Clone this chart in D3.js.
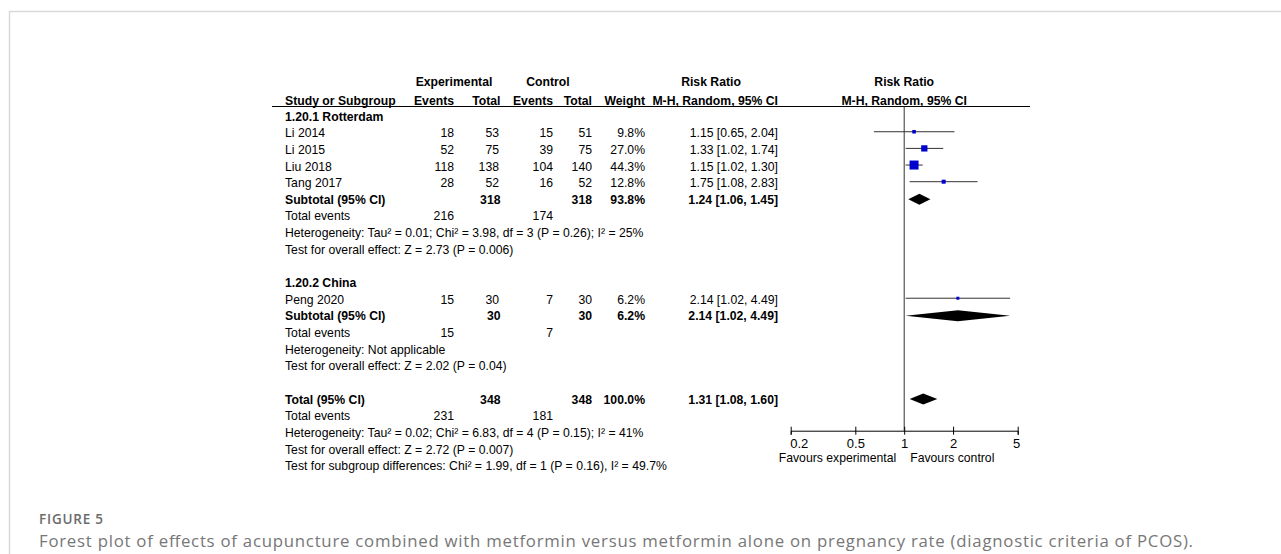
<!DOCTYPE html>
<html>
<head>
<meta charset="utf-8">
<script src="https://cdn.jsdelivr.net/npm/d3@7"></script>
<style>
  body { margin: 0; background: #fff; }
  svg text { font-family: "Liberation Sans", Arial, sans-serif; fill: #000; }
  .b { font-weight: bold; }
  .cap { font-family: "Open Sans", sans-serif; fill: #777; }
</style>
</head>
<body>
<div id="chart"></div>
<script>
// study level data
const studies = ["Li 2014", "Li 2015", "Liu 2018", "Tang 2017", "Peng 2020"];
const studyGroup = [0, 0, 0, 0, 1];
const expEvents = [18, 52, 118, 28, 15];
const expTotal = [53, 75, 138, 52, 30];
const ctlEvents = [15, 39, 104, 16, 7];
const ctlTotal = [51, 75, 140, 52, 30];
const weights = [9.8, 27.0, 44.3, 12.8, 6.2];
const rr = [1.15, 1.33, 1.15, 1.75, 2.14];
const ciLow = [0.65, 1.02, 1.02, 1.08, 1.02];
const ciHigh = [2.04, 1.74, 1.30, 2.83, 4.49];

// subgroups
const groups = ["1.20.1 Rotterdam", "1.20.2 China"];
const groupExpTotal = [318, 30];
const groupCtlTotal = [318, 30];
const groupExpEvents = [216, 15];
const groupCtlEvents = [174, 7];
const groupWeight = [93.8, 6.2];
const groupRR = [1.24, 2.14];
const groupLow = [1.06, 1.02];
const groupHigh = [1.45, 4.49];
const groupHet = ["Heterogeneity: Tau\u00b2 = 0.01; Chi\u00b2 = 3.98, df = 3 (P = 0.26); I\u00b2 = 25%",
                  "Heterogeneity: Not applicable"];
const groupTest = ["Test for overall effect: Z = 2.73 (P = 0.006)",
                   "Test for overall effect: Z = 2.02 (P = 0.04)"];

// overall
const totalExp = 348, totalCtl = 348, totalExpEvents = 231, totalCtlEvents = 181;
const totalWeight = 100.0, totalRR = 1.31, totalLow = 1.08, totalHigh = 1.60;
const totalNotes = ["Heterogeneity: Tau\u00b2 = 0.02; Chi\u00b2 = 6.83, df = 4 (P = 0.15); I\u00b2 = 41%",
                    "Test for overall effect: Z = 2.72 (P = 0.007)",
                    "Test for subgroup differences: Chi\u00b2 = 1.99, df = 1 (P = 0.16), I\u00b2 = 49.7%"];

const ticks = [0.2, 0.5, 1, 2, 5];
const favours = ["Favours experimental", "Favours control"];

let width = 1281, height = 554;

const svg = d3.select("#chart").append("svg")
    .attr("width", width).attr("height", height);

// light frame round the figure
svg.append("path")
    .attr("d", `M9.5,${height} V11.5 H${width}`)
    .attr("fill", "none").attr("stroke", "#d9d9d9").attr("stroke-width", 1.5);

// RevMan text is a bit taller and narrower than plain Arial
let fs = 13, sx = 0.94;
let col = { study: 285, expE: 454, expT: 499, ctlE: 553, ctlT: 592, w: 645, rr: 778 };

// row baselines
let y = d3.scaleLinear().domain([0, 21]).range([120.6, 470.2]);

let x = d3.scaleLog().domain([0.2, 5]).range([790.7, 1017.7]);
let size = d3.scaleLinear().domain([0, d3.max(weights)]).range([2, 9]);

let f2 = d3.format(".2f"), f1 = d3.format(".1f");
let ciText = (m, l, h) => `${f2(m)} [${f2(l)}, ${f2(h)}]`;

function txt(str, xx, yy, anchor, bold) {
    svg.append("text")
        .attr("transform", `translate(${xx},${yy}) scale(${sx},1)`)
        .attr("text-anchor", anchor || "start")
        .attr("class", bold ? "b" : null)
        .style("font-size", fs + "px")
        .text(str);
}

// headers
txt("Experimental", 454, 86, "middle", true);
txt("Control", 548, 86, "middle", true);
txt("Risk Ratio", 711, 86, "middle", true);
txt("Risk Ratio", x(1), 86, "middle", true);
txt("Study or Subgroup", col.study, 104.5, "start", true);
txt("Events", col.expE, 104.5, "end", true);
txt("Total", col.expT + 1.5, 104.5, "end", true);
txt("Events", col.ctlE, 104.5, "end", true);
txt("Total", col.ctlT, 104.5, "end", true);
txt("Weight", col.w, 104.5, "end", true);
txt("M-H, Random, 95% CI", col.rr, 104.5, "end", true);
txt("M-H, Random, 95% CI", x(1), 104.5, "middle", true);

svg.append("line")
    .attr("x1", 272).attr("x2", 1030).attr("y1", 106.5).attr("y2", 106.5)
    .attr("stroke", "#000").attr("stroke-width", 1);

let axisY = 430.7;
svg.append("line")
    .attr("x1", x(1)).attr("x2", x(1)).attr("y1", 106.5).attr("y2", axisY)
    .attr("stroke", "#333").attr("stroke-width", 1);

function diamond(m, l, h, row) {
    let cy = y(row) - 4.5;
    svg.append("polygon")
        .attr("points", [[x(l), cy], [x(m), cy - 5.5], [x(h), cy], [x(m), cy + 5.5]].join(" "))
        .attr("fill", "#000");
}

let starts = [0, 10];
groups.forEach((g, gi) => {
    let r0 = starts[gi];
    txt(g, col.study, y(r0), "start", true);
    let idx = studies.map((s, i) => i).filter(i => studyGroup[i] === gi);
    idx.forEach((i, k) => {
        let r = r0 + 1 + k, yy = y(r);
        txt(studies[i], col.study, yy);
        txt(expEvents[i], col.expE, yy, "end");
        txt(expTotal[i], col.expT, yy, "end");
        txt(ctlEvents[i], col.ctlE, yy, "end");
        txt(ctlTotal[i], col.ctlT, yy, "end");
        txt(f1(weights[i]) + "%", col.w, yy, "end");
        txt(ciText(rr[i], ciLow[i], ciHigh[i]), col.rr, yy, "end");

        let cy = yy - 5.5;
        svg.append("line")
            .attr("x1", x(ciLow[i])).attr("x2", x(ciHigh[i]))
            .attr("y1", cy).attr("y2", cy)
            .attr("stroke", "#333").attr("stroke-width", 1);
        let s = size(weights[i]);
        svg.append("rect")
            .attr("x", x(rr[i]) - s / 2).attr("y", cy - s / 2)
            .attr("width", s).attr("height", s)
            .attr("fill", "#0000cc");
    });
    let rs = r0 + 1 + idx.length;
    txt("Subtotal (95% CI)", col.study, y(rs), "start", true);
    txt(groupExpTotal[gi], col.expT + 1.5, y(rs), "end", true);
    txt(groupCtlTotal[gi], col.ctlT, y(rs), "end", true);
    txt(f1(groupWeight[gi]) + "%", col.w, y(rs), "end", true);
    txt(ciText(groupRR[gi], groupLow[gi], groupHigh[gi]), col.rr, y(rs), "end", true);
    diamond(groupRR[gi], groupLow[gi], groupHigh[gi], rs);

    txt("Total events", col.study, y(rs + 1));
    txt(groupExpEvents[gi], col.expE, y(rs + 1), "end");
    txt(groupCtlEvents[gi], col.ctlE, y(rs + 1), "end");
    txt(groupHet[gi], col.study, y(rs + 2));
    txt(groupTest[gi], col.study, y(rs + 3));
});

// overall
txt("Total (95% CI)", col.study, y(17), "start", true);
txt(totalExp, col.expT + 1.5, y(17), "end", true);
txt(totalCtl, col.ctlT, y(17), "end", true);
txt(f1(totalWeight) + "%", col.w, y(17), "end", true);
txt(ciText(totalRR, totalLow, totalHigh), col.rr, y(17), "end", true);
diamond(totalRR, totalLow, totalHigh, 17);
txt("Total events", col.study, y(18));
txt(totalExpEvents, col.expE, y(18), "end");
txt(totalCtlEvents, col.ctlE, y(18), "end");
totalNotes.forEach((n, i) => txt(n, col.study, y(19 + i)));

// log axis
let ax = svg.append("g")
    .attr("transform", `translate(0,${axisY})`)
    .call(d3.axisBottom(x).tickValues(ticks).tickFormat(d => d).tickSizeOuter(0).tickSize(4).tickPadding(4));
ax.select(".domain").attr("stroke", "#000");
ax.selectAll(".tick line").attr("y1", -4).attr("y2", 4).attr("stroke", "#000");
ax.selectAll(".tick text")
    .style("font-size", fs + "px")
    .attr("font-family", null)
    .attr("text-anchor", (d, i) => i === 0 ? "start" : i === ticks.length - 1 ? "end" : "middle")
    .attr("dx", (d, i) => i === 0 ? -1 : i === ticks.length - 1 ? 2 : 0);
ax.attr("font-family", null).attr("font-size", null);

txt(favours[0], x(1) - 8, 462, "end");
txt(favours[1], x(1) + 6, 462, "start");

// caption
svg.append("text").attr("class", "cap")
    .attr("x", 39).attr("y", 523.5)
    .attr("textLength", 64).attr("lengthAdjust", "spacing")
    .style("font-size", "13.5px").style("font-weight", 600).style("fill", "#6b6b6b")
    .text("FIGURE 5");
svg.append("text").attr("class", "cap")
    .attr("x", 39).attr("y", 547)
    .attr("textLength", 1154).attr("lengthAdjust", "spacing")
    .style("font-size", "16.8px")
    .text("Forest plot of effects of acupuncture combined with metformin versus metformin alone on pregnancy rate (diagnostic criteria of PCOS).");
</script>
</body>
</html>
